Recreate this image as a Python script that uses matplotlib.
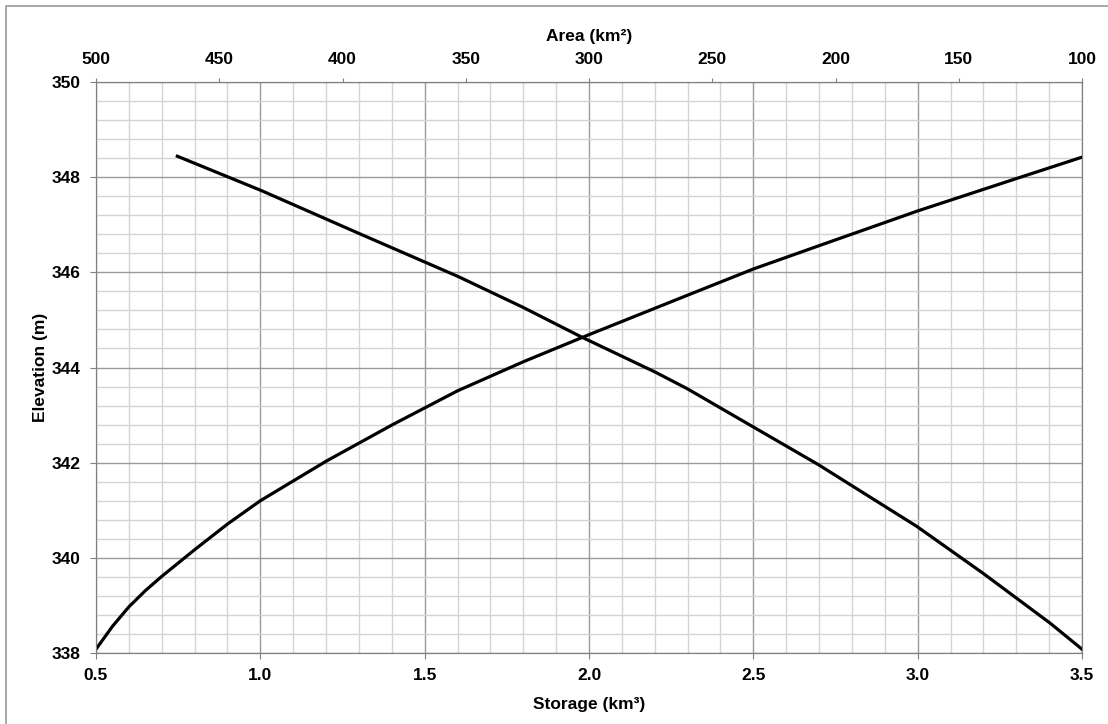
import numpy as np
import matplotlib.pyplot as plt
from matplotlib.patches import Rectangle
from matplotlib.ticker import MultipleLocator

plt.rcParams['font.family'] = ['Liberation Sans', 'DejaVu Sans']
plt.rcParams['font.weight'] = 'bold'

# storage-elevation curve (bottom axis)
storage = [0.5, 0.55, 0.6, 0.65, 0.7, 0.8, 0.9, 1.0, 1.2, 1.4, 1.6, 1.8,
           2.0, 2.3, 2.5, 2.7, 3.0, 3.3, 3.5]
storage_elev = [338.08, 338.56, 338.97, 339.31, 339.61, 340.17, 340.71,
                341.20, 342.03, 342.79, 343.51, 344.12, 344.69, 345.52,
                346.07, 346.56, 347.29, 347.97, 348.42]

# area-elevation curve (top axis, reversed)
area = [467, 433, 393, 353, 327, 303, 273, 260, 235, 207, 167, 140, 113, 100]
area_elev = [348.44, 347.72, 346.81, 345.91, 345.27, 344.64, 343.90,
             343.55, 342.80, 341.96, 340.66, 339.67, 338.63, 338.08]

W, H = 1108, 724
fig = plt.figure(figsize=(W / 100, H / 100), dpi=100)
ax = fig.add_axes([96 / W, 1 - 653 / H, (1082 - 96) / W, (653 - 82) / H])

ax.set_xlim(0.5, 3.5)
ax.set_ylim(338, 350)
ax.xaxis.set_major_locator(MultipleLocator(0.5))
ax.xaxis.set_minor_locator(MultipleLocator(0.1))
ax.yaxis.set_major_locator(MultipleLocator(2))
ax.yaxis.set_minor_locator(MultipleLocator(0.4))
ax.grid(which='minor', color='#d4d4d4', lw=1.0)
ax.grid(which='major', color='#9a9a9a', lw=1.0)
ax.set_axisbelow(True)
ax.xaxis.set_major_formatter(lambda v, p: f'{v:.1f}')
ax.yaxis.set_major_formatter(lambda v, p: f'{v:.0f}')
ax.tick_params(which='minor', length=0)
ax.tick_params(which='major', length=4, color='#808080', labelsize=12.5, pad=7)
for s in ax.spines.values():
    s.set_color('#808080')

ax.plot(storage, storage_elev, color='black', lw=2.3, zorder=3)
ax.set_xlabel('Storage (km³)', fontsize=12.5, fontweight='bold', labelpad=10)
ax.set_ylabel('Elevation (m)', fontsize=12.5, fontweight='bold', labelpad=3)

top = ax.twiny()
top.set_xlim(500, 100)
top.xaxis.set_major_locator(MultipleLocator(50))
top.tick_params(which='major', length=3, color='#808080', labelsize=12.5, pad=8)
for s in top.spines.values():
    s.set_color('#808080')
top.plot(area, area_elev, color='black', lw=2.3, zorder=3)
top.set_xlabel('Area (km²)', fontsize=12.5, fontweight='bold', labelpad=8)

fig.patches.append(Rectangle((6 / W, -0.05), 1.1, (1 + 0.05) - 6 / H,
                             transform=fig.transFigure, fill=False,
                             edgecolor='#9a9a9a', lw=1.2))

fig.savefig('out.png', dpi=100)
